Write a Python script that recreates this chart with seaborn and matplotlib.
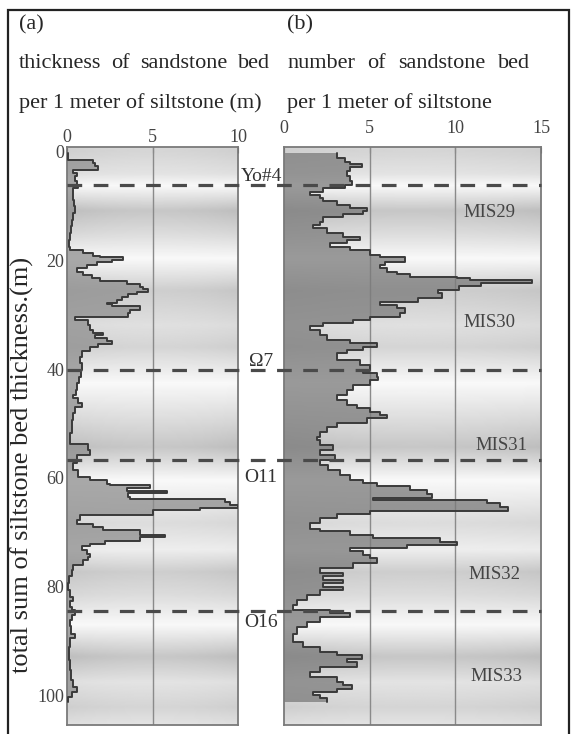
import numpy as np
import pandas as pd
import matplotlib
matplotlib.use("Agg")
import matplotlib.pyplot as plt
import matplotlib.transforms as mtrans
from matplotlib.patches import Rectangle
from matplotlib.lines import Line2D
import seaborn as sns

# ---------------- data ----------------
a_depth = [0.3, 1.6, 2.2, 2.7, 3.5, 4.0, 4.6, 5.5, 6.2, 6.8, 7.7, 8.9, 10.1, 11.4, 12.6, 13.8,
           15.0, 16.3, 17.5, 18.2, 18.7, 19.2, 19.5, 19.9, 20.4, 20.9, 21.5, 22.1, 22.7, 23.3,
           23.9, 24.4, 24.9, 25.3, 25.8, 26.2, 26.8, 27.3, 27.8, 28.1, 28.5, 29.1, 29.7, 30.4,
           31.0, 31.9, 32.8, 33.3, 33.7, 34.3, 34.8, 35.4, 36.0, 36.6, 37.7, 38.9, 40.2, 41.4,
           42.6, 43.8, 44.8, 45.4, 46.3, 46.9, 48.1, 49.4, 50.6, 51.8, 53.0, 53.8, 54.9, 55.8,
           57.3, 58.5, 59.8, 60.4, 61.1, 61.3, 61.9, 62.4, 62.8, 63.5, 63.9, 64.4, 65.0, 65.5,
           65.9, 66.8, 67.7, 68.4, 69.0, 69.6, 70.5, 70.9, 71.6, 72.2, 72.6, 73.3, 73.9, 74.5,
           75.1, 76.0, 76.9, 78.1, 79.4, 80.6, 81.8, 82.7, 83.7, 84.3, 85.2, 86.1, 87.3, 88.6,
           89.5, 91.0, 93.5, 95.3, 97.1, 98.4, 99.3, 100.2, 101.1]
a_thick = [0.08, 1.54, 1.64, 1.83, 0.37, 0.57, 0.47, 0.57, 0.66, 0.37, 0.33, 0.43, 0.47, 0.37, 0.31, 0.23,
           0.18, 0.14, 0.18, 0.96, 1.54, 1.93, 3.30, 2.61, 1.74, 1.15, 0.57, 0.96, 1.44, 1.93,
           3.49, 4.27, 4.47, 4.76, 4.08, 3.59, 3.20, 2.90, 2.32, 2.61, 4.27, 3.68, 3.59, 0.47,
           1.25, 1.35, 1.54, 2.13, 1.64, 2.32, 2.61, 1.83, 1.35, 0.86, 0.76, 0.86, 0.80, 0.72,
           0.60, 0.53, 0.37, 0.66, 0.86, 0.47, 0.37, 0.27, 0.27, 0.18, 0.18, 1.25, 1.35, 0.57,
           0.37, 0.66, 1.35, 2.32, 2.51, 4.85, 3.49, 5.83, 3.59, 3.68, 9.24, 9.54, 10.0, 7.78,
           5.05, 0.76, 0.57, 1.54, 2.13, 4.27, 5.73, 4.27, 2.22, 1.35, 0.86, 1.15, 1.35, 1.25,
           0.96, 0.37, 0.27, 0.14, 0.08, 0.18, 0.37, 0.18, 0.27, 0.47, 0.27, 0.18, 0.23, 0.47,
           0.18, 0.14, 0.18, 0.21, 0.37, 0.57, 0.27, 0.08, 0.08]

b_depth = [0.3, 1.3, 1.9, 2.3, 2.8, 3.7, 4.6, 5.5, 6.2, 6.8, 7.4, 8.0, 8.6, 9.2, 9.8, 10.4,
           10.9, 11.5, 12.1, 12.9, 13.5, 14.1, 15.0, 15.8, 16.3, 16.9, 17.5, 18.2, 19.0, 19.5,
           20.3, 20.9, 21.5, 22.1, 22.6, 23.0, 23.3, 23.7, 24.2, 24.8, 25.5, 26.1, 27.0, 27.6,
           28.2, 28.8, 29.7, 30.4, 31.0, 31.6, 32.1, 32.8, 33.7, 34.6, 35.3, 35.9, 36.5, 37.1,
           38.3, 39.2, 40.2, 40.8, 41.5, 42.1, 42.9, 43.8, 44.8, 45.7, 46.6, 47.2, 47.8, 48.4,
           49.0, 50.0, 50.6, 51.5, 52.4, 53.0, 54.0, 54.9, 55.8, 56.7, 57.6, 58.5, 59.4, 60.4,
           61.0, 61.5, 62.2, 63.0, 63.6, 64.1, 64.7, 65.4, 66.0, 66.6, 67.4, 68.3, 69.3, 69.8,
           70.4, 71.0, 71.7, 72.3, 72.8, 73.5, 74.1, 74.8, 75.7, 76.6, 77.5, 78.1, 78.8, 79.4,
           80.0, 80.6, 81.5, 82.4, 83.4, 84.3, 84.9, 85.5, 86.4, 87.4, 88.6, 90.1, 91.1, 92.0,
           92.6, 93.2, 93.8, 94.7, 95.6, 96.5, 97.5, 98.1, 98.7, 99.3, 99.9, 100.5, 101.1]
b_count = [3.08, 3.56, 3.85, 4.53, 3.85, 3.66, 3.85, 3.95, 3.56, 2.30, 1.52, 2.10, 2.30, 3.08, 3.85, 4.83,
           4.63, 3.46, 2.30, 2.10, 1.71, 2.49, 3.46, 4.44, 3.66, 2.69, 3.85, 5.02, 5.60, 7.06,
           5.90, 5.60, 6.00, 6.58, 7.36, 10.08, 10.86, 14.5, 11.5, 10.2, 9.0, 9.2, 7.8, 5.6,
           6.58, 7.06, 6.77, 5.02, 4.05, 2.30, 1.52, 2.10, 2.49, 3.85, 5.41, 4.63, 3.66, 3.08,
           4.44, 5.02, 4.63, 5.41, 5.51, 5.02, 4.05, 3.66, 3.08, 3.66, 4.24, 5.02, 5.60, 6.00,
           4.83, 3.08, 2.49, 2.10, 1.90, 2.10, 2.88, 2.10, 2.98, 2.10, 2.59, 3.27, 3.85, 4.63,
           5.41, 7.36, 8.33, 8.62, 5.21, 11.83, 12.61, 13.10, 5.02, 3.08, 2.10, 1.52, 2.10, 3.85,
           5.21, 9.11, 10.08, 7.16, 3.85, 4.63, 5.02, 5.41, 4.05, 2.10, 3.46, 2.30, 3.46, 2.30,
           3.46, 2.10, 1.32, 0.74, 0.54, 2.69, 3.85, 2.10, 1.32, 0.74, 0.54, 1.13, 2.10, 3.08,
           4.53, 3.66, 4.24, 2.10, 1.52, 3.08, 3.46, 3.95, 3.08, 1.71, 2.10, 2.49, 2.49]

marker_depths = [6.2, 40.2, 56.7, 84.4]
marker_labels = ["Yo#4", "Ω7", "O11", "O16"]
marker_label_depths = [4.6, 38.6, 59.9, 86.6]

mis_labels = ["MIS29", "MIS30", "MIS31", "MIS32", "MIS33"]
mis_x = [12.0, 12.0, 12.7, 12.3, 12.4]
mis_depth = [11.3, 31.5, 54.1, 77.7, 96.4]

# background banding (styling): depth knots and grey strength
bg_depth = [-0.8, -0.3, 4.0, 6.2, 10.8, 15.0, 19.6, 25.5, 31.9, 35.9, 42.5, 49.4, 54.3,
            60.4, 68.3, 73.2, 77.3, 81.5, 87.0, 92.9, 97.6, 102.2, 105.4]
bg_level = [0.45, 0.5, 0.3, 0.0, 0.7, 0.4, 0.0, 0.6, 0.35, 0.5, 0.0, 0.4, 0.7,
            0.0, 0.4, 0.15, 0.6, 0.4, 0.0, 0.7, 0.3, 0.5, 0.3]

assert len(a_depth) == len(a_thick)
assert len(b_depth) == len(b_count)

W, H = 571, 734
YMIN, YMAX = -0.8, 105.4
SERIF = ["Liberation Serif", "DejaVu Serif"]

sns.set_theme(style="white")
plt.rcParams["font.family"] = SERIF
plt.rcParams["axes.unicode_minus"] = False

fig = plt.figure(figsize=(W / 100, H / 100), dpi=100)
fig.patch.set_facecolor("white")


def px_ax(l, t, r, b):
    return fig.add_axes([l / W, 1 - b / H, (r - l) / W, (b - t) / H])


ax_a = px_ax(67, 147, 238, 725)
ax_b = px_ax(284, 147, 541, 725)


def step_df(depth, vals):
    d = np.asarray(depth, float)
    v = np.asarray(vals, float)
    ys = np.repeat(d, 2)[1:-1]
    xs = np.repeat(v[:-1], 2)
    return pd.DataFrame({"v": xs, "d": ys})


def background(ax, xmax):
    dd = np.linspace(YMIN, YMAX, 500)
    lev = np.interp(dd, bg_depth, bg_level)
    xx = np.linspace(0, 1, 60)
    edge = 0.85 + 0.15 * (np.abs(xx - 0.5) * 2) ** 2
    img = 0.975 - 0.33 * lev[:, None] * edge[None, :]
    ax.imshow(img, cmap="gray", vmin=0, vmax=1, aspect="auto",
              extent=[0, xmax, YMAX, YMIN], zorder=0, interpolation="bilinear")


for ax, xmax, depth, vals, fc in [(ax_a, 10, a_depth, a_thick, "#8e8e8e"),
                                   (ax_b, 15, b_depth, b_count, "#7a7a7a")]:
    background(ax, xmax)
    df = step_df(depth, vals)
    ax.fill_betweenx(df["d"], 0, df["v"], color=fc, alpha=0.75, lw=0, zorder=2)
    sns.lineplot(data=df, x="v", y="d", sort=False, estimator=None, ax=ax,
                 color="#3a3a3a", lw=1.4, zorder=3)
    ax.set_xlim(0, xmax)
    ax.set_ylim(YMAX, YMIN)
    for g in range(5, xmax, 5):
        ax.axvline(g, color="#8a8a8a", lw=1.0, zorder=1)
    ax.set_xlabel("")
    ax.set_ylabel("")
    ax.xaxis.tick_top()
    ax.set_xticks(range(0, xmax + 1, 5))
    for s in ax.spines.values():
        s.set_color("#7a7a7a")
        s.set_linewidth(1.3)
    ax.tick_params(axis="both", direction="in", length=4, width=0.8, colors="#555555",
                   labelsize=13, labelcolor="#444444")

ax_a.set_yticks(range(0, 101, 20))
ax_a.tick_params(axis="x", pad=1)
ax_a.tick_params(axis="y", pad=2)
ax_b.set_yticks(range(20, 101, 20))
ax_b.set_yticklabels([])
ax_b.tick_params(axis="x", pad=7)

# dashed marker lines spanning both panels (drawn on the figure, above both axes)
blend = mtrans.blended_transform_factory(fig.transFigure, ax_a.transData)
for d in marker_depths:
    fig.add_artist(Line2D([67 / W, 541 / W], [d, d], transform=blend,
                          color="#4a4a4a", lw=2.3, ls=(0, (4.6, 3.6)), zorder=10))
for lab, d in zip(marker_labels, marker_label_depths):
    fig.text(261 / W, 0, lab, transform=blend, ha="center", va="center",
             fontsize=14, color="#333333", zorder=11).set_y(d)

for lab, x, d in zip(mis_labels, mis_x, mis_depth):
    ax_b.text(x, d, lab, ha="center", va="center", fontsize=13.5, color="#444444", zorder=7)

# header texts (justified lines are spread word by word)
HFS = 16
renderer = fig.canvas.get_renderer()


def justified(words, x0, x1, y):
    arts = [fig.text(0, 1 - y / H, w, fontsize=HFS, va="center", ha="left") for w in words]
    widths = [a.get_window_extent(renderer).width for a in arts]
    gap = (x1 - x0 - sum(widths)) / (len(words) - 1)
    x = x0
    for a, wd in zip(arts, widths):
        a.set_x(x / W)
        x += wd + gap


fig.text(19 / W, 1 - 25 / H, "(a)", fontsize=HFS, va="center", ha="left")
fig.text(287 / W, 1 - 25 / H, "(b)", fontsize=HFS, va="center", ha="left")
justified(["thickness", "of", "sandstone", "bed"], 19, 270, 63)
fig.text(19 / W, 1 - 103 / H, "per 1 meter of siltstone (m)", fontsize=HFS, va="center", ha="left")
justified(["number", "of", "sandstone", "bed"], 287, 530, 63)
fig.text(287 / W, 1 - 103 / H, "per 1 meter of siltstone", fontsize=HFS, va="center", ha="left")

fig.text(22 / W, 1 - 465 / H, "total sum of siltstone bed thickness.(m)", rotation=90,
         fontsize=19, va="center", ha="center")

fig.add_artist(Rectangle((8 / W, -0.05), (569 - 8) / W, 1 - 10 / H + 0.05,
                         transform=fig.transFigure, fill=False, lw=1.6, ec="#222222"))

fig.savefig("out.png", dpi=100, facecolor="white")
